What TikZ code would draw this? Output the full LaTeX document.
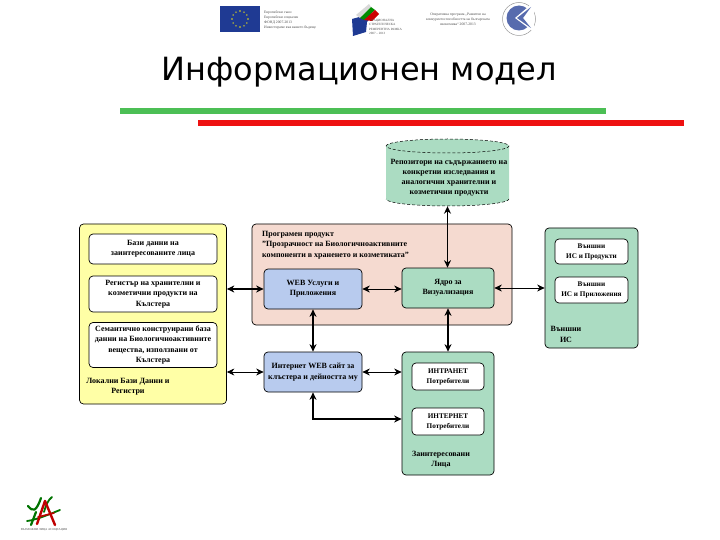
\documentclass[tikz,border=0pt]{standalone}
\usepackage{fontspec}
\setmainfont{Liberation Serif}
\newfontfamily\titlefont{DejaVu Sans}
\usetikzlibrary{arrows.meta}
\definecolor{mdyellow}{HTML}{FFFFA6}
\definecolor{mdpink}{HTML}{F5DAD0}
\definecolor{mdblue}{HTML}{B8CBEE}
\definecolor{mdgreen}{HTML}{ABDCC2}
\definecolor{mdbar}{HTML}{4CBF55}
\definecolor{mdred}{HTML}{EE1111}
\definecolor{eublue}{HTML}{1F3A93}
\tikzset{
  box/.style={draw=black, rounded corners=4pt, line width=0.7pt, inner sep=0pt, align=center, font=\fontsize{8}{10.3}\selectfont\bfseries},
  whitebox/.style={box, fill=white},
  smallbox/.style={whitebox, font=\fontsize{7.2}{10}\selectfont\bfseries},
  caption/.style={inner sep=0pt, align=center, font=\fontsize{8}{10.3}\selectfont\bfseries},
  tiny/.style={inner sep=0pt, align=center, font=\fontsize{3.7}{4.8}\selectfont, text=black!70},
  thick link/.style={<->, line width=1.3pt},
  thin link/.style={<->, line width=0.8pt}
}
\begin{document}
\begin{tikzpicture}[x=1pt, y=-1pt, >={Stealth[length=7.5pt, width=7pt]}]
  \useasboundingbox (0,0) rectangle (720,540);
  % logos on top
  \fill[eublue] (220,6) rectangle (260,32);
  \foreach \a in {0,30,...,330}{
    \fill[yellow!90!black] (240,19) ++(\a:8) circle (0.8);
  }
  \node[tiny, align=left, anchor=west] (eutext) at (264,20) {Европейски съюз\\Европейски социален\\ФОНД 2007-2013\\Инвестираме във вашето бъдеще};
  \fill[eublue] (352,19) -- (374,13) -- (367,22) -- (366,32) -- (353,36) -- cycle;
  \fill[black!15] (356,15) -- (369,4) -- (371,7) -- (360,18) -- cycle;
  \fill[green!55!black] (360,18) -- (371,7) -- (375,10) -- (364,20) -- cycle;
  \fill[red!80!black] (364,20) -- (375,10) -- (379,14) -- (372,21) -- cycle;
  \node[tiny, font=\fontsize{3.2}{4.1}\selectfont, align=left, anchor=west] (srfr) at (369,27) {\hspace*{2pt}НАЦИОНАЛНА\\СТРАТЕГИЧЕСКА\\РЕФЕРЕНТНА РАМКА\\2007 – 2013};
  \node[tiny] (optext) at (458,19) {Оперативна програма „Развитие на\\конкурентоспособността на българската\\икономика“ 2007-2013};
  \draw[black!40, fill=white, line width=0.5pt] (519,19) circle (16.5);
  \fill[eublue!75] (519,18) circle (12.5);
  \fill[white] (515,18) -- (534,2) -- (534,32) -- cycle;
  \fill[eublue!75] (517,18) -- (531,7) -- (523,18) -- (531,28) -- cycle;
  % title and bars
  \node[anchor=base west, inner sep=0pt, font=\titlefont\fontsize{32}{32}\selectfont] (title) at (161,81) {Информационен модел};
  \fill[mdbar] (120,108) rectangle (606,114);
  \fill[mdred] (198,120) rectangle (684,126);
  % left group
  \node[box, fill=mdyellow, minimum width=147, minimum height=180] (locals) at (153,314) {};
  \node[whitebox, minimum width=128, minimum height=30] (contacts) at (153,249) {Бази данни на\\заинтересованите лица};
  \node[whitebox, minimum width=128, minimum height=36] (registry) at (153,294) {Регистър на хранителни и\\козметични продукти на\\Кълстера};
  \node[whitebox, minimum width=128, minimum height=45] (semantic) at (153,345) {Семантично конструирани база\\данни на Биологичноактивните\\вещества, използвани от\\Кълстера};
  \node[caption] (localslabel) at (128,387) {Локални Бази Данни и\\Регистри};
  % software product
  \node[box, fill=mdpink, minimum width=260, minimum height=101] (product) at (382,274.5) {};
  \node[caption, align=left, anchor=north west] (productlabel) at (262,231) {Програмен продукт\\"Прозрачност на Биологичноактивните\\компоненти в храненето и козметиката"};
  \node[box, fill=mdblue, minimum width=98, minimum height=40] (web) at (313,289) {WEB Услуги и\\Приложения};
  \node[box, fill=mdgreen, minimum width=92, minimum height=40] (core) at (448,288) {Ядро за\\Визуализация};
  % repository
  \fill[mdgreen] (386,146) arc[x radius=61.5pt, y radius=7pt, start angle=180, end angle=0] -- (509,199) arc[x radius=61.5pt, y radius=7pt, start angle=0, end angle=-180] -- cycle;
  \draw[densely dashed, line width=0.5pt] (386,146) arc[x radius=61.5pt, y radius=7pt, start angle=180, end angle=-180];
  \draw[densely dashed, line width=0.5pt] (509,199) arc[x radius=61.5pt, y radius=7pt, start angle=0, end angle=-180];
  \node[caption, minimum width=123, minimum height=67] (repo) at (447.5,172.5) {};
  \node[caption, font=\fontsize{8}{10}\selectfont\bfseries] (repolabel) at (449,178) {Репозитори на съдържанието на\\конкретни изследвания и\\аналогични хранителни и\\козметични продукти};
  % web site and users
  \node[box, fill=mdblue, minimum width=98, minimum height=40] (site) at (313,372) {Интернет WEB сайт за\\клъстера и дейността му};
  \node[box, fill=mdgreen, minimum width=92, minimum height=123] (users) at (448,413.5) {};
  \node[smallbox, minimum width=72, minimum height=27] (intranet) at (448,376.5) {ИНТРАНЕТ\\Потребители};
  \node[smallbox, minimum width=72, minimum height=27] (internet) at (448,421.5) {ИНТЕРНЕТ\\Потребители};
  \node[caption] (userslabel) at (441,459.5) {Заинтересовани\\Лица};
  % external systems
  \node[box, fill=mdgreen, minimum width=93, minimum height=120] (external) at (591.5,288) {};
  \node[smallbox, minimum width=73, minimum height=25] (extone) at (591.5,251.5) {Външни\\ИС и Продукти};
  \node[smallbox, minimum width=73, minimum height=26] (exttwo) at (591.5,290) {Външни\\ИС и Приложения};
  \node[caption] (externallabel) at (566,334.5) {Външни\\ИС};
  % connectors
  \draw[thick link] (repo.south) -- (core.north -| repo.south);
  \draw[thick link] (locals.east |- web.west) -- (web.west);
  \draw[thin link] (web.east) -- (core.west |- web.east);
  \draw[thin link] (external.west |- core.east) -- (core.east);
  \draw[thick link] (web.south) -- (site.north);
  \draw[thick link] (core.south) -- (users.north);
  \draw[thin link] (locals.east |- site.west) -- (site.west);
  \draw[thin link] (site.east) -- (users.west |- site.east);
  \coordinate (elbow) at (313,419);
  \draw[thick link] (site.south) -- (elbow) -- (users.west |- elbow);
  % bottom logo
  \draw[green!45!black, line width=2.2pt, line cap=round] (28,506) .. controls (33,512) and (36,512) .. (41,498);
  \draw[green!45!black, line width=2.2pt, line cap=round] (36,512) -- (31,525);
  \draw[green!45!black, line width=1.8pt, line cap=round] (27,521) .. controls (36,520) and (50,514) .. (60,510);
  \draw[green!45!black, line width=1.8pt, line cap=round] (44,512) .. controls (46,505) and (48,500) .. (52,497);
  \draw[red!75!black, line width=2.4pt, line cap=round] (45,501) -- (37,524);
  \draw[red!75!black, line width=2.4pt, line cap=round] (45,501) -- (55,525);
  \draw[red!75!black, line width=1.6pt, line cap=round] (38,517) -- (54,513);
  \node[tiny, font=\fontsize{3}{3}\selectfont] (logotext) at (44,530) {ВЪЗМОЖНИ ЛИЦА АСОЦИАЦИЯ};
\end{tikzpicture}
\end{document}
